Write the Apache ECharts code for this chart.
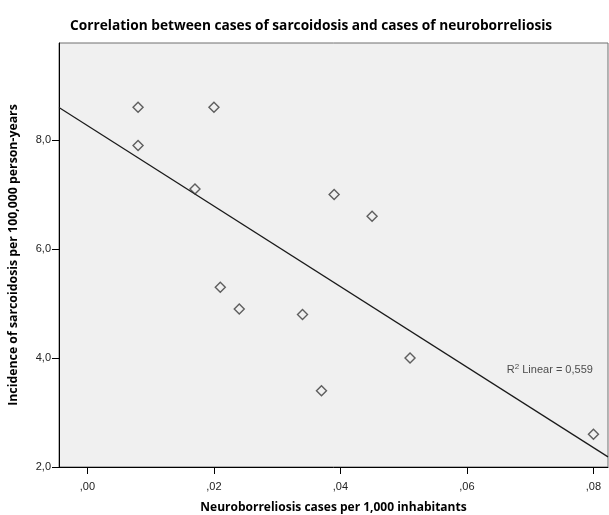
<!DOCTYPE html>
<html>
<head>
<meta charset="utf-8">
<script src="https://cdn.jsdelivr.net/npm/echarts@6/dist/echarts.min.js"></script>
<style>html,body{margin:0;padding:0;background:#fff}#c{width:609px;height:515px}</style>
</head>
<body>
<div id="c"></div>
<script>
const neuroborreliosis = [0.008, 0.008, 0.020, 0.017, 0.021, 0.024, 0.034, 0.037, 0.039, 0.045, 0.051, 0.080];
const sarcoidosis      = [8.6,   7.9,   8.6,   7.1,   5.3,   4.9,   4.8,   3.4,   7.0,   6.6,   4.0,   2.6];
const xTicks = [0, 0.02, 0.04, 0.06, 0.08];
const yTicks = [2, 4, 6, 8];
const xRange = [-0.0045, 0.0823];
const yRange = [2, 9.78];
const r2Anchor = [0.0663, 3.78];

// least-squares fit from the data
const n = neuroborreliosis.length;
const mx = neuroborreliosis.reduce((a, b) => a + b, 0) / n;
const my = sarcoidosis.reduce((a, b) => a + b, 0) / n;
let sxy = 0, sxx = 0;
for (let i = 0; i < n; i++) {
  sxy += (neuroborreliosis[i] - mx) * (sarcoidosis[i] - my);
  sxx += (neuroborreliosis[i] - mx) ** 2;
}
const slope = sxy / sxx, icpt = my - slope * mx;
const fitLine = xRange.map(x => [x, icpt + slope * x]);

const chart = echarts.init(document.getElementById('c'), null, {renderer: 'canvas'});
const labelFont = {fontFamily: 'Liberation Sans, Arial, sans-serif', fontSize: 11, color: '#222'};
const nameFont = {fontFamily: 'Open Sans', fontWeight: 'bold', fontSize: 12.3, color: '#000'};
chart.setOption({
  animation: false,
  backgroundColor: '#ffffff',
  title: {
    text: 'Correlation between cases of sarcoidosis and cases of neuroborreliosis',
    left: 65, top: 14,
    textStyle: {fontFamily: 'Open Sans', fontWeight: 'bold', fontSize: 13.7, color: '#000'}
  },
  grid: {left: 59, top: 43, right: 1, bottom: 48, show: true, outerBoundsMode: 'none', containLabel: false,
    backgroundColor: '#f0f0f0', borderColor: '#6e6e6e', borderWidth: 1},
  xAxis: {
    type: 'value', min: xRange[0], max: xRange[1],
    name: 'Neuroborreliosis cases per 1,000 inhabitants',
    nameLocation: 'middle', nameGap: 35,
    nameTextStyle: Object.assign({}, nameFont, {fontSize: 12}),
    axisLine: {onZero: false, lineStyle: {color: '#000', width: 1}},
    axisTick: {show: true, length: 7, customValues: xTicks, lineStyle: {color: '#000'}},
    axisLabel: Object.assign({customValues: xTicks, margin: 14,
      formatter: v => v.toFixed(2).replace('0.', ',')}, labelFont),
    splitLine: {show: false}
  },
  yAxis: {
    type: 'value', min: yRange[0], max: yRange[1],
    name: 'Incidence of sarcoidosis per 100,000 person-years',
    nameLocation: 'middle', nameGap: 40, nameRotate: 90,
    nameTextStyle: nameFont,
    axisLine: {onZero: false, lineStyle: {color: '#000', width: 1}},
    axisTick: {show: true, length: 7, customValues: yTicks, lineStyle: {color: '#000'}},
    axisLabel: Object.assign({customValues: yTicks, margin: 8,
      formatter: v => v.toFixed(1).replace('.', ',')}, labelFont),
    splitLine: {show: false}
  },
  series: [
    {
      type: 'line', data: fitLine, symbol: 'none', silent: true,
      lineStyle: {color: '#1a1a1a', width: 1.2}, z: 2
    },
    {
      type: 'scatter', data: neuroborreliosis.map((x, i) => [x, sarcoidosis[i]]),
      symbol: 'diamond', symbolSize: 10,
      itemStyle: {color: 'rgba(0,0,0,0)', borderColor: '#3a3a3a', borderWidth: 1.4}, z: 3
    },
    {
      type: 'scatter', data: [r2Anchor], symbolSize: 0, silent: true,
      label: {
        show: true, position: 'right', distance: 0,
        formatter: '{a|R}{s|2}{a| Linear = 0,559}',
        rich: {
          a: {fontFamily: 'Liberation Sans, Arial', fontSize: 11, color: '#222'},
          s: {fontFamily: 'Liberation Sans, Arial', fontSize: 8, color: '#222', verticalAlign: 'top', padding: [0, 0, 6, 0]}
        }
      }
    }
  ]
});
</script>
</body>
</html>
